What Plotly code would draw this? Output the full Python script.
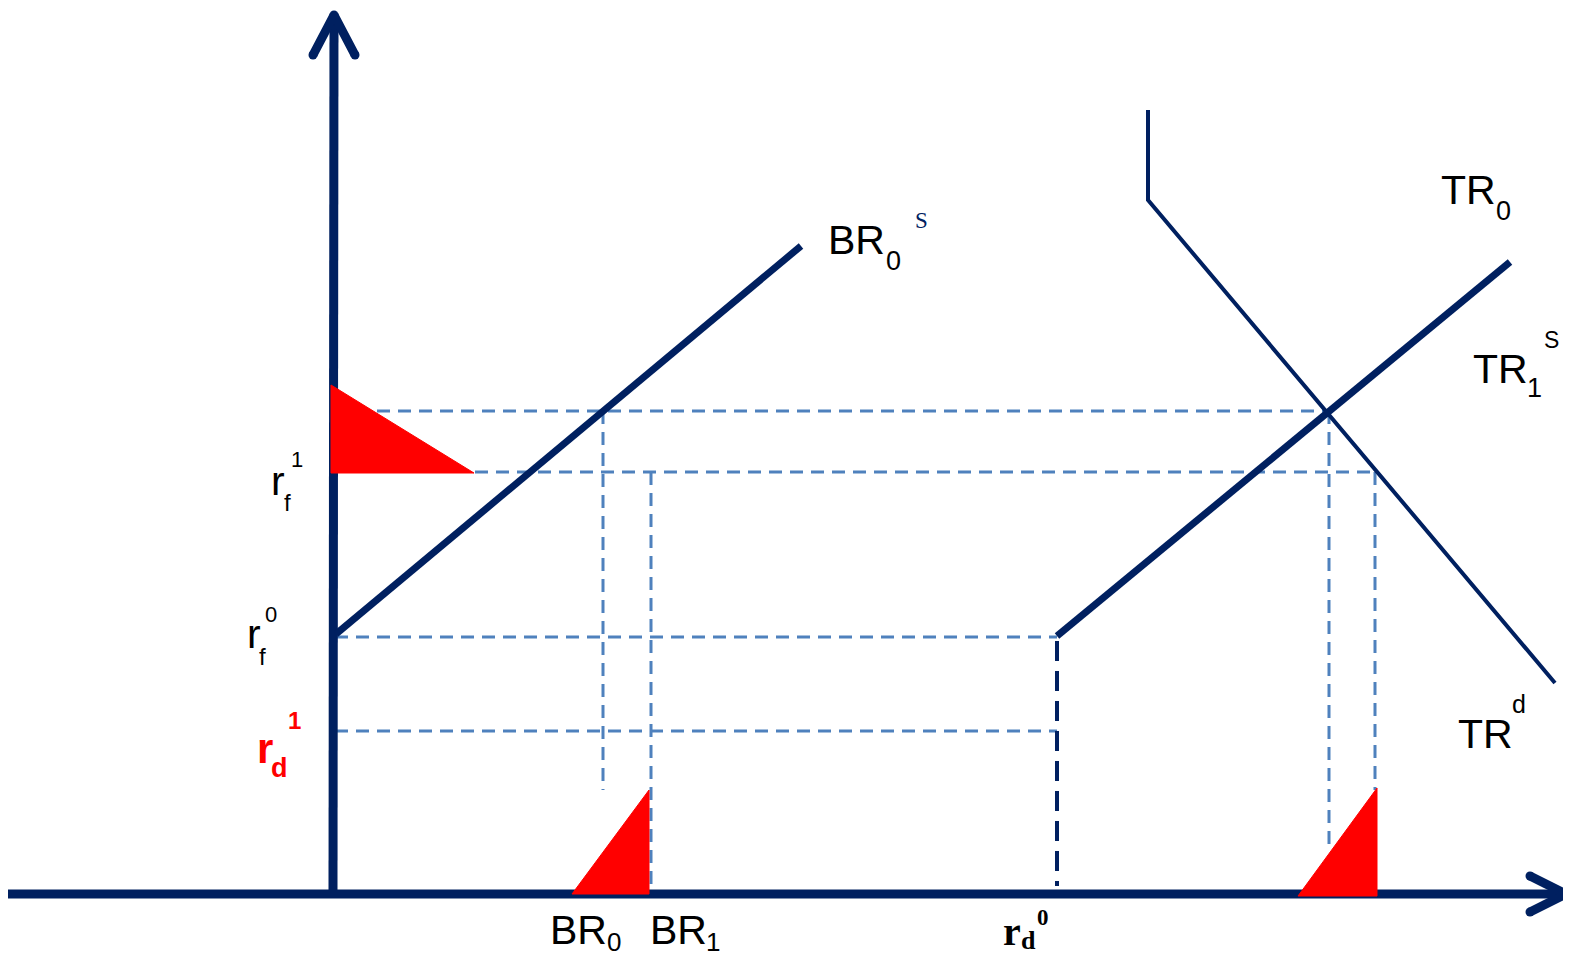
import plotly.graph_objects as go

# Diagram drawn in screen-like units: x to the right, y downward (0..959).
NAVY = "#002060"
DASH_BLUE = "#4F81BD"
RED = "#FF0000"

# The page body has an 8px margin, so the visible window is shifted by it.
OFFSET = 8

# Axes and arrow heads
Y_AXIS_X = [333, 334]
Y_AXIS_Y = [893, 16]
X_AXIS_X = [0, 1564]
X_AXIS_Y = [894, 894]
Y_HEAD_X = [313, 334, 355]
Y_HEAD_Y = [55, 15, 55]
X_HEAD_X = [1530, 1566, 1530]
X_HEAD_Y = [876, 894, 912]

# Curves
BR0S_X = [336, 801]
BR0S_Y = [634, 246]
TR1S_X = [1057, 1510]
TR1S_Y = [636, 262]
TRD_X = [1148, 1148, 1555]
TRD_Y = [110, 200, 683]

# Dashed guide lines (light blue): horizontal then vertical
H_GUIDE_Y = [411, 472, 637, 731]
H_GUIDE_X0 = [335, 475, 335, 335]
H_GUIDE_X1 = [1328, 1376, 1057, 1057]
V_GUIDE_X = [603, 651, 1329, 1375]
V_GUIDE_Y0 = [411, 472, 411, 472]
V_GUIDE_Y1 = [790, 893, 848, 790]

# Dark dashed drop line at r_d^0
RD0_X = [1057, 1057]
RD0_Y = [641, 886]

# Red triangles
TRI_LEFT_X = [331, 331, 474]
TRI_LEFT_Y = [385, 473, 473]
TRI_MID_X = [572, 649, 649]
TRI_MID_Y = [894, 894, 790]
TRI_RIGHT_X = [1298, 1377, 1377]
TRI_RIGHT_Y = [896, 896, 788]

fig = go.Figure()


def seg(x, y, color, width, dash="solid", caps=False):
    fig.add_trace(go.Scatter(
        x=x, y=y, mode="lines+markers" if caps else "lines", hoverinfo="skip",
        line=dict(color=color, width=width, dash=dash),
        marker=dict(size=width, color=color),
    ))


def tri(x, y):
    fig.add_trace(go.Scatter(
        x=x + x[:1], y=y + y[:1], mode="lines", fill="toself",
        fillcolor=RED, line=dict(color=RED, width=1), hoverinfo="skip",
    ))


for y, x0, x1 in zip(H_GUIDE_Y, H_GUIDE_X0, H_GUIDE_X1):
    seg([x0, x1], [y, y], DASH_BLUE, 3, "13px,8px")
for x, y0, y1 in zip(V_GUIDE_X, V_GUIDE_Y0, V_GUIDE_Y1):
    seg([x, x], [y0, y1], DASH_BLUE, 3, "13px,8px")
seg(RD0_X, RD0_Y, NAVY, 4, "20px,10px")

seg(Y_AXIS_X, Y_AXIS_Y, NAVY, 9)
seg(X_AXIS_X, X_AXIS_Y, NAVY, 9)
seg(Y_HEAD_X, Y_HEAD_Y, NAVY, 9, caps=True)
seg(X_HEAD_X, X_HEAD_Y, NAVY, 9, caps=True)

seg(BR0S_X, BR0S_Y, NAVY, 7)
seg(TR1S_X, TR1S_Y, NAVY, 7)
seg(TRD_X, TRD_Y, NAVY, 4)

tri(TRI_LEFT_X, TRI_LEFT_Y)
tri(TRI_MID_X, TRI_MID_Y)
tri(TRI_RIGHT_X, TRI_RIGHT_Y)

SANS = "Liberation Sans, Arial, sans-serif"
SERIF = "Liberation Serif, Times New Roman, serif"

# (text, x, y, size, color, family, bold)
LABELS = [
    ("BR", 856, 240, 41, "black", SANS, False),
    ("0", 893, 261, 27, "black", SANS, False),
    ("S", 921, 220, 23, NAVY, SERIF, False),
    ("TR", 1468, 190, 41, "black", SANS, False),
    ("0", 1503, 211, 27, "black", SANS, False),
    ("TR", 1500, 369, 41, "black", SANS, False),
    ("1", 1534, 388, 27, "black", SANS, False),
    ("S", 1551, 340, 23, "black", SANS, False),
    ("TR", 1485, 734, 41, "black", SANS, False),
    ("d", 1519, 704, 25, "black", SANS, False),
    ("r", 278, 481, 41, "black", SANS, False),
    ("f", 287, 502, 24, "black", SANS, False),
    ("1", 297, 459, 22, "black", SANS, False),
    ("r", 254, 634, 41, "black", SANS, False),
    ("f", 262, 656, 24, "black", SANS, False),
    ("0", 271, 614, 22, "black", SANS, False),
    ("r", 265, 748, 42, RED, SANS, True),
    ("d", 279, 768, 27, RED, SANS, True),
    ("1", 294, 720, 24, RED, SANS, True),
    ("BR", 578, 930, 41, "black", SANS, False),
    ("0", 614, 942, 26, "black", SANS, False),
    ("BR", 678, 930, 41, "black", SANS, False),
    ("1", 713, 942, 26, "black", SANS, False),
    ("r", 1012, 931, 40, "black", SERIF, True),
    ("d", 1028, 940, 26, "black", SERIF, True),
    ("0", 1043, 917, 23, "black", SERIF, True),
]

for text, x, y, size, color, family, bold in LABELS:
    fig.add_annotation(
        x=x, y=y, text=f"<b>{text}</b>" if bold else text, showarrow=False,
        xanchor="center", yanchor="middle",
        font=dict(size=size, color=color, family=family),
    )

fig.update_layout(
    width=1571,
    height=959,
    margin=dict(l=0, r=0, t=0, b=0),
    showlegend=False,
    plot_bgcolor="white",
    paper_bgcolor="white",
    xaxis=dict(range=[OFFSET, 1571 + OFFSET], visible=False, fixedrange=True),
    yaxis=dict(range=[959 + OFFSET, OFFSET], visible=False, fixedrange=True),
)

fig.write_html("out.html")
